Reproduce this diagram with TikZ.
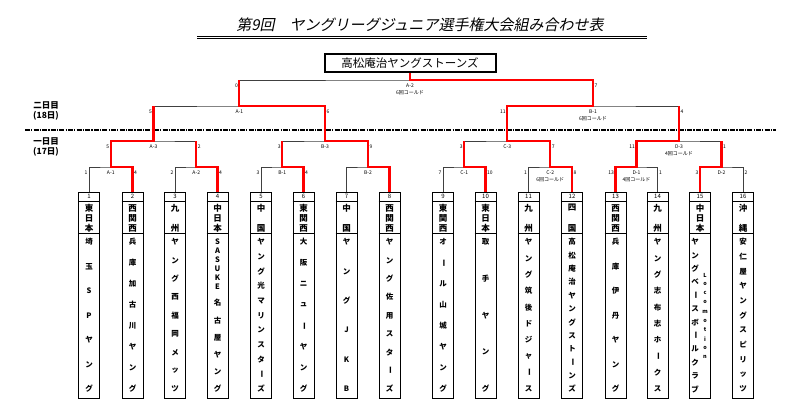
\documentclass[tikz,border=0pt]{standalone}
\usepackage{fontspec}
\setmainfont{Noto Sans CJK JP}
\newfontfamily\titlefont[FakeSlant=0.2]{Noto Sans CJK JP}
\usetikzlibrary{positioning,calc}
\tikzstyle{lose}=[draw,black!75,line width=0.7pt]
\tikzstyle{win}=[draw,red,line width=2.2pt]
\tikzstyle{champbox}=[draw,line width=2pt,minimum width=171pt,minimum height=18pt,inner sep=0,font=\fontsize{11.5}{12}\selectfont]
\tikzstyle{teambox}=[draw,line width=0.8pt,minimum width=21pt,minimum height=206pt,inner sep=0]
\tikzstyle{num}=[inner sep=0,font=\fontsize{6}{6}\selectfont]
\tikzstyle{regchar}=[inner sep=0,font=\bfseries\fontsize{8.5}{8.5}\selectfont]
\tikzstyle{namechar}=[inner sep=0,font=\bfseries\fontsize{7.5}{7.5}\selectfont]
\tikzstyle{latchar}=[inner sep=0,font=\bfseries\fontsize{5.5}{5.5}\selectfont]
\tikzstyle{score}=[inner sep=0.3pt,font=\fontsize{5}{5}\selectfont]
\tikzstyle{daylbl}=[inner sep=0,font=\bfseries\fontsize{8.5}{9}\selectfont]
\tikzstyle{daysep}=[draw,line width=1.4pt,dash pattern=on 5pt off 1.2pt on 1.2pt off 1.2pt]

% long vowel mark in vertical text
\newcommand{\vbar}{\rotatebox{-90}{ー}}
% vertical text: style, name, x, top, bottom, characters
\newcommand{\vtext}[6]{%
  \foreach \vch [count=\vi] in {#6} {\xdef\vcount{\vi}}
  \foreach \vch [count=\vi] in {#6} {
    \pgfmathsetmacro{\yy}{#4+(\vi-1)*(#5-#4)/max(\vcount-1,1)}
    \node[#1] (#2\vi) at (#3,\yy) {\vch};
  }
}
% team box: number, x, region
\newcommand{\team}[3]{%
  \node[teambox] (t#1) at (#2,295) {};
  \draw[line width=0.8pt] ($(t#1.north west)+(0,10)$) -- ($(t#1.north east)+(0,10)$);
  \draw[line width=0.8pt] ($(t#1.north west)+(0,42)$) -- ($(t#1.north east)+(0,42)$);
  \node[num] (t#1no) at ($(t#1.north)+(0,5)$) {#1};
  \vtext{regchar}{t#1r}{#2}{208}{228}{#3}
}
% match labels: mid, left, right, left score, match, right score
\newcommand{\mscore}[6]{%
  \node[score,anchor=east] (#1l) at ($(#2 |- #1)+(-1,5.5)$) {#4};
  \node[score] (#1m) at ($(#1)+(0,5.5)$) {#5};
  \node[score,anchor=west] (#1r) at ($(#3 |- #1)+(1,5.5)$) {#6};
}

\begin{document}
\begin{tikzpicture}[x=1pt,y=-1pt]
	\useasboundingbox (0,0) rectangle (800,409);
	
	\node[font=\titlefont\fontsize{15}{15}\selectfont] (title) at (420,25) {第9回　ヤングリーグジュニア選手権大会組み合わせ表};
	\draw[line width=0.6pt] (197,36) -- (647,36);
	\draw[line width=0.6pt] (197,38.5) -- (647,38.5);
	
	\node[champbox] (champ) at (410,63) {高松庵治ヤングストーンズ};
	
	\node[daylbl] (day2) at (46,105) {二日目};
	\node[daylbl] (day2d) at (46,116) {(18日)};
	\node[daylbl] (day1) at (46,141) {一日目};
	\node[daylbl] (day1d) at (46,152) {(17日)};
	\draw[daysep] (25,130) -- (776,130);
	
	\team{1}{89}{東,日,本}
	\vtext{namechar}{t1n}{89}{242}{389}{埼,玉,S,P,ヤ,ン,グ}
	\team{2}{132.5}{西,関,西}
	\vtext{namechar}{t2n}{132.5}{242}{389}{兵,庫,加,古,川,ヤ,ン,グ}
	\team{3}{175}{九,州}
	\vtext{namechar}{t3n}{175}{242}{389}{ヤ,ン,グ,西,福,岡,メ,ッ,ツ}
	\team{4}{217.5}{中,日,本}
	\vtext{namechar}{t4n}{217.5}{242}{287}{S,A,S,U,K,E}
	\vtext{namechar}{t4k}{217.5}{303}{389}{名,古,屋,ヤ,ン,グ}
	\team{5}{261}{中,国}
	\vtext{namechar}{t5n}{261}{242}{389}{ヤ,ン,グ,光,マ,リ,ン,ス,タ,\vbar,ズ}
	\team{6}{303.5}{東,関,西}
	\vtext{namechar}{t6n}{303.5}{242}{389}{大,阪,ニ,ュ,\vbar,ヤ,ン,グ}
	\team{7}{346.5}{中,国}
	\vtext{namechar}{t7n}{346.5}{242}{389}{ヤ,ン,グ,J,K,B}
	\team{8}{389.5}{西,関,西}
	\vtext{namechar}{t8n}{389.5}{242}{389}{ヤ,ン,グ,佐,用,ス,タ,\vbar,ズ}
	\team{9}{443}{東,関,西}
	\vtext{namechar}{t9n}{443}{242}{389}{オ,\vbar,ル,山,城,ヤ,ン,グ}
	\team{10}{485.5}{東,日,本}
	\vtext{namechar}{t10n}{485.5}{242}{389}{取,手,ヤ,ン,グ}
	\team{11}{528.5}{九,州}
	\vtext{namechar}{t11n}{528.5}{242}{389}{ヤ,ン,グ,筑,後,ド,ジ,ャ,\vbar,ス}
	\team{12}{572}{四,国}
	\vtext{namechar}{t12n}{572}{242}{389}{高,松,庵,治,ヤ,ン,グ,ス,ト,\vbar,ン,ズ}
	\team{13}{615.5}{西,関,西}
	\vtext{namechar}{t13n}{615.5}{242}{389}{兵,庫,伊,丹,ヤ,ン,グ}
	\team{14}{657.5}{九,州}
	\vtext{namechar}{t14n}{657.5}{242}{389}{ヤ,ン,グ,志,布,志,ホ,\vbar,ク,ス}
	\team{15}{700}{中,日,本}
	\vtext{namechar}{t15n}{695}{242}{389}{ヤ,ン,グ,ベ,\vbar,ス,ボ,\vbar,ル,ク,ラ,ブ}
	\vtext{latchar}{t15l}{705}{275}{357}{L,o,c,o,m,o,t,i,o,n}
	\team{16}{743}{沖,縄}
	\vtext{namechar}{t16n}{743}{242}{389}{安,仁,屋,ヤ,ン,グ,ス,ピ,リ,ッ,ツ}
	
	% match points
	\coordinate (a1) at (110.75,167);
	\coordinate (a2) at (196.25,167);
	\coordinate (b1) at (282.25,167);
	\coordinate (b2) at (368,167);
	\coordinate (c1) at (464.25,167);
	\coordinate (c2) at (550.25,167);
	\coordinate (d1) at (636.5,167);
	\coordinate (d2) at (721.5,167);
	\coordinate (a3) at (153.5,141);
	\coordinate (b3) at (325.1,141);
	\coordinate (c3) at (507.25,141);
	\coordinate (d3) at (679,141);
	\coordinate (sA) at (239.3,106);
	\coordinate (sB) at (593.1,106);
	\coordinate (fin) at (410,80);
	
	% bracket
	\draw[lose] (t1.north) |- (a1) -| (t2.north);
	\draw[lose] (t3.north) |- (a2) -| (t4.north);
	\draw[lose] (t5.north) |- (b1) -| (t6.north);
	\draw[lose] (t7.north) |- (b2) -| (t8.north);
	\draw[lose] (t9.north) |- (c1) -| (t10.north);
	\draw[lose] (t11.north) |- (c2) -| (t12.north);
	\draw[lose] (t13.north) |- (d1) -| (t14.north);
	\draw[lose] (t15.north) |- (d2) -| (t16.north);
	\draw[lose] (a1) |- (a3) -| (a2);
	\draw[lose] (b1) |- (b3) -| (b2);
	\draw[lose] (c1) |- (c3) -| (c2);
	\draw[lose] (d1) |- (d3) -| (d2);
	\draw[lose] (a3) |- (sA) -| (b3);
	\draw[lose] (c3) |- (sB) -| (d3);
	\draw[lose] (sA) |- (fin) -| (sB);
	
	% winners
	\draw[win] (t2.north) |- (a1) |- (a3) -- (a3 |- sA);
	\draw[win] (t4.north) |- (a2) -- (a2 |- a3);
	\draw[win] (t6.north) |- (b1) -- (b1 |- b3);
	\draw[win] (t8.north) |- (b2) |- (b3) |- (sA) -- (sA |- fin);
	\draw[win] (t10.north) |- (c1) -- (c1 |- c3);
	\draw[win] (t12.north) |- (c2) |- (c3) |- (sB) |- (fin) -- (champ.south);
	\draw[win] (t13.north) |- (d1) |- (d3) -- (d3 |- sB);
	\draw[win] (t15.north) |- (d2) -- (d2 |- d3);
	
	% scores
	\mscore{fin}{sA}{sB}{0}{A-2}{7}
	\node[score] (finx) at ($(fin)+(0,13)$) {6回コールド};
	\mscore{sA}{a3}{b3}{5}{A-1}{6}
	\mscore{sB}{c3}{d3}{11}{B-1}{4}
	\node[score] (sBx) at ($(sB)+(0,12.5)$) {6回コールド};
	\mscore{a3}{a1}{a2}{5}{A-3}{2}
	\mscore{b3}{b1}{b2}{3}{B-3}{9}
	\mscore{c3}{c1}{c2}{3}{C-3}{7}
	\mscore{d3}{d1}{d2}{11}{D-3}{1}
	\node[score] (d3x) at ($(d3)+(0,12.5)$) {4回コールド};
	\mscore{a1}{t1.north}{t2.north}{1}{A-1}{4}
	\mscore{a2}{t3.north}{t4.north}{2}{A-2}{4}
	\mscore{b1}{t5.north}{t6.north}{3}{B-1}{4}
	\node[score] (b2m) at ($(b2)+(0,5.5)$) {B-2};
	\mscore{c1}{t9.north}{t10.north}{7}{C-1}{10}
	\mscore{c2}{t11.north}{t12.north}{1}{C-2}{8}
	\node[score] (c2x) at ($(c2)+(0,12.5)$) {6回コールド};
	\mscore{d1}{t13.north}{t14.north}{13}{D-1}{1}
	\node[score] (d1x) at ($(d1)+(0,12.5)$) {4回コールド};
	\mscore{d2}{t15.north}{t16.north}{3}{D-2}{2}
\end{tikzpicture}
\end{document}
